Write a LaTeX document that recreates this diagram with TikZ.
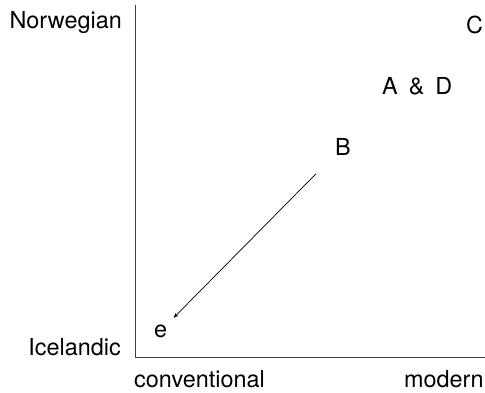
\documentclass[tikz,border=0pt]{standalone}
\usepackage{fontspec}
\setmainfont{TeX Gyre Heros}
\usetikzlibrary{arrows.meta}

\begin{document}
\begin{tikzpicture}[
  x=1pt, y=1pt,
  lbl/.style={inner sep=0pt, font=\fontsize{23.4}{28}\selectfont},
  axis/.style={line width=1pt, black!75},
  arr/.style={-{Stealth[length=5pt, width=4pt]}, line width=0.7pt,
              shorten <=27pt, shorten >=9pt}
]
  \useasboundingbox (0,0) rectangle (485,392);

  % Axes
  \coordinate (origin) at (135,35);
  \coordinate (ytop) at (135,387);
  \coordinate (xend) at (485,35);
  \draw[axis] (ytop) -- (origin) -- (xend);

  % Axis labels
  \node[lbl, anchor=base east] (norw) at (122,363) {Norwegian};
  \node[lbl, anchor=base east] (icel) at (121,37) {Icelandic};
  \node[lbl, anchor=base west] (conv) at (134,5) {conventional};
  \node[lbl, anchor=base west] (mod) at (404,5) {modern};

  % Points
  \node[lbl, anchor=base west] (C) at (466,359) {C};
  \node[lbl, anchor=base west] (AD) at (382,298) {A\hspace{11pt}\&\hspace{11pt}D};
  \node[lbl, anchor=base west] (B) at (335,237) {B};
  \node[lbl, anchor=base west] (e) at (154,55) {e};

  \draw[arr] (B) -- (e);
\end{tikzpicture}
\end{document}
